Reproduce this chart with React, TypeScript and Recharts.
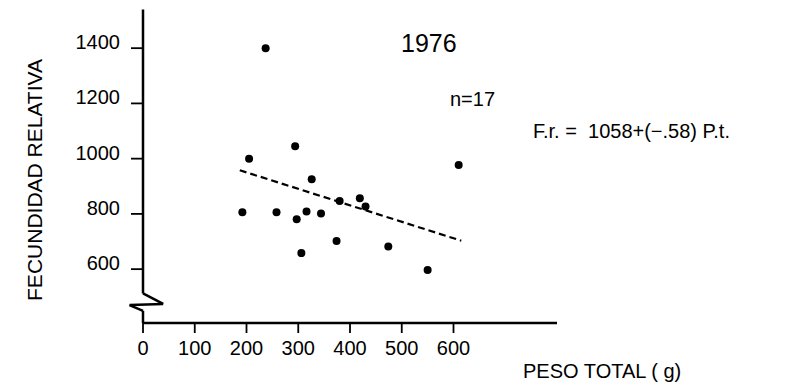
import React from 'react'
import { ScatterChart, Scatter, XAxis, YAxis, ReferenceLine } from 'recharts'

// peso total (g) and fecundidad relativa, 1976, n = 17
const pesoTotal = [237, 294, 205, 326, 380, 419, 430, 610, 192, 258, 297, 316, 344, 374, 306, 474, 550]
const fecundidad = [1400, 1045, 1000, 925, 847, 857, 827, 977, 806, 806, 781, 809, 801, 702, 658, 682, 597]

const xTicks = [0, 100, 200, 300, 400, 500, 600]
const yTicks = [600, 800, 1000, 1200, 1400]

// ends of the dashed regression line, as drawn
const regression = [
  { x: 187, y: 958 },
  { x: 615, y: 703 },
]

// y axis drawn by hand, with the break near the bottom
const yAxisPath = [
  { x: 0, y: 1540 },
  { x: 0, y: 512 },
  { x: 39, y: 474 },
  { x: -26, y: 470 },
  { x: 0, y: 449 },
  { x: 0, y: 405 },
]

const data = pesoTotal.map((x, i) => ({ x, y: fecundidad[i] }))

const FONT = '"Liberation Sans", Arial, sans-serif'

const XTick = (props: any) => {
  const { x, y, payload } = props
  return (
    <g>
      <line x1={x} y1={y} x2={x} y2={y + 10} stroke="#000" strokeWidth={1.8} />
      <text x={x} y={y + 32} textAnchor="middle" fontSize={20} fontFamily={FONT} fill="#000">
        {payload.value}
      </text>
    </g>
  )
}

const YTick = (props: any) => {
  const { x, y, payload } = props
  return (
    <g>
      <line x1={x - 12} y1={y} x2={x} y2={y} stroke="#000" strokeWidth={1.8} />
      <text x={x - 23} y={y + 1} textAnchor="end" fontSize={20} fontFamily={FONT} fill="#000">
        {payload.value}
      </text>
    </g>
  )
}

export default function App() {
  return (
    <div style={{ position: 'absolute', left: 0, top: 0, width: 794, height: 389, background: '#fff' }}>
      <ScatterChart width={794} height={389} margin={{ top: 9.5, right: 237, bottom: 0, left: 0 }}>
        <XAxis
          type="number"
          dataKey="x"
          domain={[0, 800]}
          ticks={xTicks}
          interval={0}
          allowDataOverflow
          height={66}
          tickSize={0}
          tickMargin={0}
          tickLine={false}
          axisLine={{ stroke: '#000', strokeWidth: 2.5 }}
          tick={<XTick />}
        />
        <YAxis
          type="number"
          dataKey="y"
          domain={[405, 1540]}
          ticks={yTicks}
          interval={0}
          allowDataOverflow
          width={143}
          tickSize={0}
          tickMargin={0}
          tickLine={false}
          axisLine={false}
          tick={<YTick />}
        />
        {yAxisPath.slice(1).map((p, i) => (
          <ReferenceLine
            key={`ax-${i}`}
            segment={[yAxisPath[i], p]}
            stroke="#000"
            strokeWidth={2.5}
            ifOverflow="visible"
          />
        ))}
        <ReferenceLine
          segment={regression}
          stroke="#000"
          strokeWidth={2.2}
          strokeDasharray="7 4"
          ifOverflow="visible"
        />
        <Scatter data={data} fill="#000" isAnimationActive={false} shape={(p: any) => <circle cx={p.cx} cy={p.cy} r={4} fill="#000" />} />
      </ScatterChart>
      <svg width={794} height={389} style={{ position: 'absolute', left: 0, top: 0, pointerEvents: 'none' }}>
        <g fontFamily={FONT} fill="#000">
          <text x={401} y={51.5} fontSize={25}>1976</text>
          <text x={450} y={106} fontSize={20}>n=17</text>
          <text x={533} y={138} fontSize={20} style={{ whiteSpace: 'pre' }}>F.r. =  1058+(−.58) P.t.</text>
          <text x={523} y={378} fontSize={20}>PESO TOTAL ( g)</text>
          <text x={41.5} y={180} fontSize={21} textAnchor="middle" transform="rotate(-90 41.5 180)">
            FECUNDIDAD RELATIVA
          </text>
        </g>
      </svg>
    </div>
  )
}
